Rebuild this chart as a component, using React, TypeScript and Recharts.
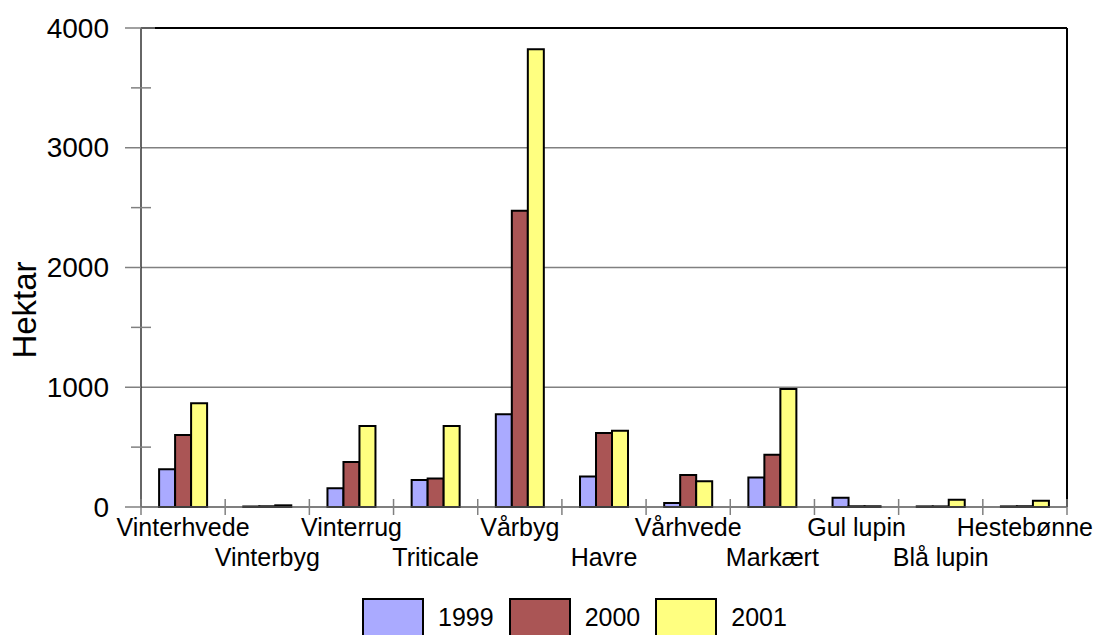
import React from 'react';
import { BarChart, Bar, XAxis, YAxis, CartesianGrid, Legend, ReferenceLine } from 'recharts';

const categories = ['Vinterhvede', 'Vinterbyg', 'Vinterrug', 'Triticale', 'Vårbyg', 'Havre', 'Vårhvede', 'Markært', 'Gul lupin', 'Blå lupin', 'Hestebønne'];
const values1999 = [316, 5, 157, 226, 774, 254, 34, 246, 78, 5, 5];
const values2000 = [601, 6, 375, 237, 2473, 618, 268, 436, 6, 5, 6];
const values2001 = [866, 14, 676, 676, 3822, 637, 215, 986, 6, 61, 53];
const yTicks = [0, 500, 1000, 1500, 2000, 2500, 3000, 3500, 4000];
const gridValues = [1000, 2000, 3000];
const topValue = 4000;
const seriesNames = ['1999', '2000', '2001'];

const colors = ['#AAAAFF', '#AA5555', '#FFFF80'];
const W = 1098;
const H = 635;
const LEFT = 141;
const RIGHT = 31;
const PLOT_W = W - LEFT - RIGHT;
const FONT = '"Liberation Sans", Arial, sans-serif';

const data = categories.map((name, i) => ({
  name,
  s1999: values1999[i],
  s2000: values2000[i],
  s2001: values2001[i],
}));
const keys = ['s1999', 's2000', 's2001'];

const XTick = (props: any) => {
  const { x, y, payload, index } = props;
  const bw = PLOT_W / categories.length;
  const row = index % 2;
  return (
    <g>
      <line x1={x - bw / 2} x2={x - bw / 2} y1={y - 8} y2={y + 8} stroke="#808080" strokeWidth={1.5} />
      {index === categories.length - 1 && (
        <line x1={x + bw / 2} x2={x + bw / 2} y1={y - 8} y2={y + 8} stroke="#808080" strokeWidth={1.5} />
      )}
      <text x={x} y={y + (row === 0 ? 29 : 59)} textAnchor="middle" fontSize={25} fill="#000" fontFamily={FONT}>
        {payload.value}
      </text>
    </g>
  );
};

const YTick = (props: any) => {
  const { x, y, payload } = props;
  const major = payload.value % 1000 === 0;
  return (
    <g>
      {major ? (
        <line x1={x - 16} x2={x + (payload.value === topValue ? 14 : 0)} y1={y} y2={y} stroke="#808080" strokeWidth={1.5} />
      ) : (
        <line x1={x - 10} x2={x + 10} y1={y} y2={y} stroke="#808080" strokeWidth={1.5} />
      )}
      {major && (
        <text x={x - 32} y={y} textAnchor="end" dominantBaseline="central" fontSize={28} fill="#000" fontFamily={FONT}>
          {payload.value}
        </text>
      )}
    </g>
  );
};

const HektarLabel = () => (
  <text transform="translate(36,310) rotate(-90)" textAnchor="middle" fontSize={33} fill="#000" fontFamily={FONT}>
    Hektar
  </text>
);

const LegendContent = () => (
  <div style={{ height: 37, display: 'flex', alignItems: 'flex-start', paddingLeft: 362, fontFamily: FONT, boxSizing: 'border-box' }}>
    {seriesNames.map((n, i) => (
      <React.Fragment key={n}>
        <div style={{ width: 62, height: 40, background: colors[i], border: '2px solid #000', boxSizing: 'border-box', marginRight: 14 }} />
        <span style={{ fontSize: 25, lineHeight: '37px', paddingTop: 1, marginRight: 15, color: '#000' }}>{n}</span>
      </React.Fragment>
    ))}
  </div>
);

export default function App() {
  return (
    <div style={{ position: 'absolute', left: 0, top: 0, width: W, height: H, background: '#fff', fontFamily: FONT, overflow: 'hidden' }}>
      <BarChart width={W} height={H} data={data} margin={{ top: 28, right: 0, bottom: 0, left: 0 }} barCategoryGap="21.5%" barGap={0}>
        <CartesianGrid horizontal vertical={false} horizontalValues={gridValues} stroke="#808080" strokeWidth={1.5} />
        <XAxis
          dataKey="name"
          height={91}
          interval={0}
          tickSize={0}
          tickMargin={0}
          tickLine={false}
          tick={<XTick />}
          axisLine={{ stroke: '#555', strokeWidth: 1.5 }}
        />
        <YAxis
          width={LEFT}
          domain={[0, 4000]}
          ticks={yTicks}
          interval={0}
          tickSize={0}
          tickMargin={0}
          tickLine={false}
          tick={<YTick />}
          axisLine={{ stroke: '#333', strokeWidth: 1.5 }}
          label={<HektarLabel />}
        />
        <YAxis yAxisId="right" orientation="right" width={RIGHT} domain={[0, 4000]} tick={false} tickLine={false} axisLine={{ stroke: '#000', strokeWidth: 2 }} />
        <ReferenceLine y={topValue} stroke="#000" strokeWidth={2} />
        {keys.map((k, i) => (
          <Bar key={k} dataKey={k} name={seriesNames[i]} fill={colors[i]} stroke="#000" strokeWidth={2} isAnimationActive={false} />
        ))}
        <Legend verticalAlign="bottom" content={<LegendContent />} />
      </BarChart>
    </div>
  );
}
